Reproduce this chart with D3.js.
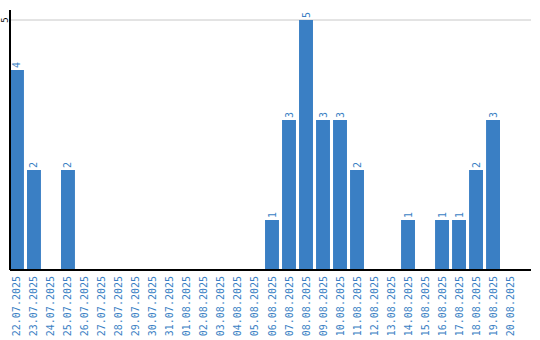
<!DOCTYPE html>
<html>
<head>
<meta charset="utf-8">
<script src="https://cdn.jsdelivr.net/npm/d3@7"></script>
<style>
  body { margin: 0; background: #fff; }
  text { font-family: "DejaVu Sans Mono", monospace; }
</style>
</head>
<body>
<svg id="container"></svg>
<script>
var dates = ["22.07.2025","23.07.2025","24.07.2025","25.07.2025","26.07.2025","27.07.2025",
  "28.07.2025","29.07.2025","30.07.2025","31.07.2025","01.08.2025","02.08.2025","03.08.2025",
  "04.08.2025","05.08.2025","06.08.2025","07.08.2025","08.08.2025","09.08.2025","10.08.2025",
  "11.08.2025","12.08.2025","13.08.2025","14.08.2025","15.08.2025","16.08.2025","17.08.2025",
  "18.08.2025","19.08.2025","20.08.2025"];
var counts = [4,2,0,2,0,0,0,0,0,0,0,0,0,0,0,1,3,5,3,3,2,0,0,1,0,1,1,2,3,0];
var yTicks = [5];

function drawChart(){
    const W = 540, H = 340;
    const margin = {top: 10, right: 9, bottom: 70, left: 10},
        w = W - margin.left - margin.right,
        h = H - margin.top - margin.bottom;
    const color = "#3a7fc4";

    var svg = d3.select("#container")
        .attr("width", W)
        .attr("height", H)
        .append("g")
        .attr("transform", "translate(" + margin.left + "," + margin.top + ")");

    var xBand = d3.scaleBand().domain(dates).range([0, 507]).paddingInner(0.18).paddingOuter(0);
    var yScale = d3.scaleLinear().domain([0, 5.2]).range([h, 0]);

    // grid
    svg.append("g").selectAll("line")
        .data(yTicks).enter().append("line")
        .attr("x1", 0).attr("x2", w)
        .attr("y1", d => yScale(d)).attr("y2", d => yScale(d))
        .attr("stroke", "#c8c8c8").attr("stroke-width", 1);

    // bars
    svg.append("g").selectAll("rect")
        .data(dates).enter().append("rect")
        .attr("x", d => xBand(d))
        .attr("width", xBand.bandwidth())
        .attr("y", (d, i) => yScale(counts[i]))
        .attr("height", (d, i) => h - yScale(counts[i]))
        .attr("fill", color);

    // value labels
    svg.append("g").selectAll("text")
        .data(dates.filter((d, i) => counts[i] > 0)).enter().append("text")
        .attr("transform", d => "translate(" + (xBand(d) + xBand.bandwidth()/2) + "," + (yScale(counts[dates.indexOf(d)]) - 2) + ") rotate(-90)")
        .attr("dy", "0.35em")
        .attr("font-size", 10)
        .attr("fill", color)
        .text(d => counts[dates.indexOf(d)]);

    // x axis
    var gX = svg.append("g").attr("transform", "translate(0," + h + ")");
    gX.append("line").attr("x1", 0).attr("x2", w).attr("stroke", "#000").attr("stroke-width", 2);
    gX.selectAll("text")
        .data(dates).enter().append("text")
        .attr("transform", d => "translate(" + (xBand(d) + xBand.bandwidth()/2) + ",6) rotate(-90)")
        .attr("text-anchor", "end")
        .attr("dy", "0.35em")
        .attr("font-size", 10)
        .attr("fill", color)
        .text(d => d);

    // y axis
    var gY = svg.append("g");
    gY.append("line").attr("y1", 0).attr("y2", h).attr("stroke", "#000").attr("stroke-width", 2);
    gY.selectAll("text")
        .data(yTicks).enter().append("text")
        .attr("transform", d => "translate(-5," + yScale(d) + ") rotate(-90)")
        .attr("text-anchor", "middle")
        .attr("dy", "0.35em")
        .attr("font-size", 9)
        .attr("fill", "#000")
        .text(d => d);
}

drawChart();
</script>
</body>
</html>
